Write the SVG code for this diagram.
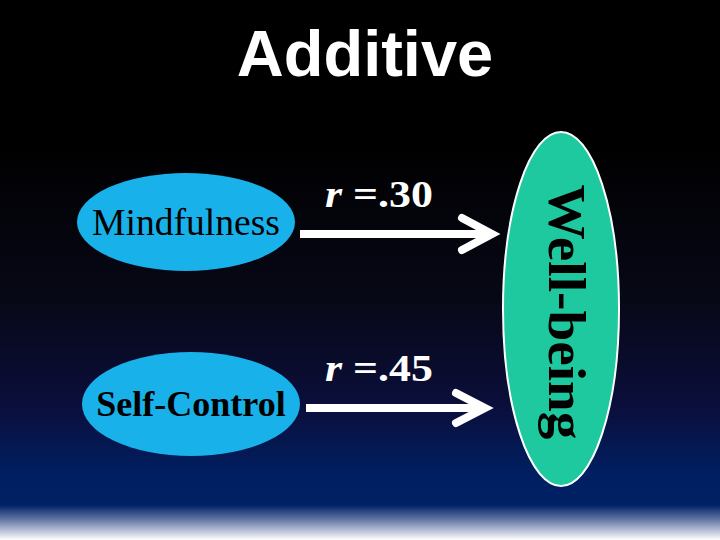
<svg xmlns="http://www.w3.org/2000/svg" width="720" height="540" viewBox="0 0 720 540">
  <defs>
    <linearGradient id="bg" x1="0" y1="0" x2="0" y2="1">
      <stop offset="0" stop-color="#000000"/>
      <stop offset="0.26" stop-color="#000000"/>
      <stop offset="0.55" stop-color="#070816"/>
      <stop offset="0.75" stop-color="#0b0e3a"/>
      <stop offset="0.88" stop-color="#001f62"/>
      <stop offset="0.935" stop-color="#002064"/>
      <stop offset="0.96" stop-color="#5a6fa0"/>
      <stop offset="1" stop-color="#ffffff"/>
    </linearGradient>
    <style>
      .node-blue { fill: #19b1e9; }
      .node-green { fill: #1fc9a0; stroke: #ffffff; stroke-width: 2; }
      .lbl { font-family: "Liberation Serif", "Times New Roman", serif; fill: #000000; }
      .r { font-family: "Liberation Serif", "Times New Roman", serif; fill: #ffffff; font-weight: bold; font-size: 37px; }
      .line { stroke: #ffffff; stroke-width: 8; fill: none; }
      .head { stroke: #ffffff; stroke-width: 8; fill: none; stroke-linejoin: miter; stroke-linecap: round; }
    </style>
  </defs>
  <rect x="0" y="0" width="720" height="540" fill="url(#bg)"/>
  <text x="365" y="76" text-anchor="middle" font-family="Liberation Sans, Arial, sans-serif" font-weight="bold" font-size="65" fill="#ffffff">Additive</text>

  <g id="mindfulness">
    <ellipse class="node-blue" cx="186" cy="222" rx="109" ry="49"/>
    <text class="lbl" x="186" y="235" text-anchor="middle" font-size="37" textLength="188" lengthAdjust="spacingAndGlyphs">Mindfulness</text>
  </g>
  <g id="self-control">
    <ellipse class="node-blue" cx="191" cy="404" rx="109" ry="52"/>
    <text class="lbl" x="191" y="416" text-anchor="middle" font-size="36" font-weight="bold">Self-Control</text>
  </g>
  <g id="well-being">
    <ellipse class="node-green" cx="561" cy="309" rx="58" ry="177"/>
    <text class="lbl" transform="translate(549,312) rotate(90)" x="0" y="0" text-anchor="middle" font-size="53" font-weight="bold" textLength="255" lengthAdjust="spacingAndGlyphs">Well-being</text>
  </g>

  <g id="connectors">
    <line class="line" x1="300" y1="234" x2="488" y2="234"/>
    <polyline class="head" points="462,218 492,234 462,250"/>
    <text class="r" x="325" y="207" textLength="108" lengthAdjust="spacingAndGlyphs"><tspan font-style="italic">r</tspan> =.30</text>
    <line class="line" x1="306" y1="408" x2="481" y2="408"/>
    <polyline class="head" points="456,393 485,408 456,423"/>
    <text class="r" x="325" y="381" textLength="108" lengthAdjust="spacingAndGlyphs"><tspan font-style="italic">r</tspan> =.45</text>
  </g>
</svg>
